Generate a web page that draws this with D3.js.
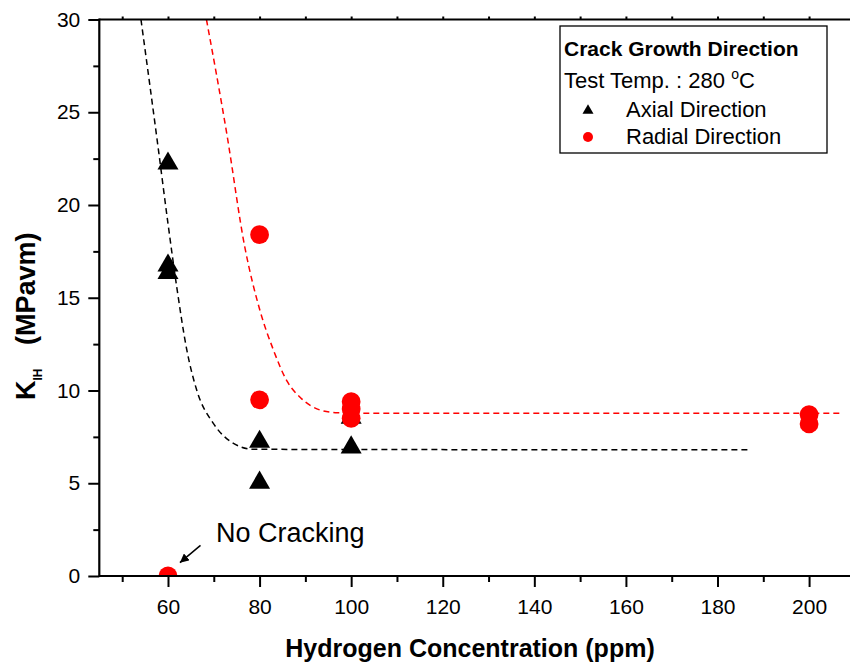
<!DOCTYPE html>
<html>
<head>
<meta charset="utf-8">
<script src="https://cdn.jsdelivr.net/npm/d3@7"></script>
<style>
  body { margin: 0; background: #fff; }
  svg { display: block; font-family: "Liberation Sans", Arial, sans-serif; }
</style>
</head>
<body>
<svg id="lienzo" width="850" height="666"></svg>
<script>
// datos
const axialX = [60, 60, 60, 80, 80, 100, 100];
const axialY = [22.4, 16.9, 16.5, 7.4, 5.2, 8.7, 7.1];
const radialX = [60, 80, 80, 100, 100, 100, 200, 200];
const radialY = [0, 18.4, 9.5, 9.4, 9.0, 8.5, 8.7, 8.2];

// curvas de ajuste (puntos leidos sobre las lineas discontinuas)
const axialFitX = [54.1, 57.9, 60, 61.9, 64.1, 66.3, 69.9, 74.3, 78.6, 186.7];
const axialFitY = [30, 23, 19, 15.6, 12.2, 10, 8.23, 7.15, 6.83, 6.8];
const radialFitX = [68.4, 72.8, 76.8, 80.1, 83, 86, 89, 93.2, 97, 100.4, 206.8];
const radialFitY = [30, 23.9, 17.7, 14.3, 12.2, 10.5, 9.6, 8.95, 8.8, 8.78, 8.78];

const xMajor = [60, 80, 100, 120, 140, 160, 180, 200];
const xMinor = [50, 70, 90, 110, 130, 150, 170, 190];
const yMajor = [0, 5, 10, 15, 20, 25, 30];
const yMinor = [2.5, 7.5, 12.5, 17.5, 22.5, 27.5];

const svg = d3.select('#lienzo');
const margenIzq = 99.3, margenDer = 850.3, margenSup = 19.5, margenInf = 576;

const x = d3.scaleLinear().domain([45, 209]).range([margenIzq, margenDer]);
const y = d3.scaleLinear().domain([0, 30]).range([margenInf, margenSup]);

const defs = svg.append('defs');
defs.append('clipPath').attr('id', 'area')
    .append('rect')
    .attr('x', margenIzq).attr('y', margenSup)
    .attr('width', margenDer - margenIzq).attr('height', margenInf - margenSup);

const plot = svg.append('g').attr('clip-path', 'url(#area)');

// curvas discontinuas
const linea = d3.line()
    .x(d => x(d[0]))
    .y(d => y(d[1]))
    .curve(d3.curveMonotoneX);

plot.append('path')
    .datum(d3.zip(axialFitX, axialFitY))
    .attr('d', linea)
    .attr('fill', 'none')
    .attr('stroke', 'black')
    .attr('stroke-width', 1.5)
    .attr('stroke-dasharray', '6,4');

plot.append('path')
    .datum(d3.zip(radialFitX, radialFitY))
    .attr('d', linea)
    .attr('fill', 'none')
    .attr('stroke', '#ff0000')
    .attr('stroke-width', 1.5)
    .attr('stroke-dasharray', '6,4');

// triangulo centrado en su caja
function triangulo(s) {
    const h = s * 0.866 / 2;
    return `M0,${-h}L${s / 2},${h}L${-s / 2},${h}Z`;
}

plot.selectAll('path.axial')
    .data(d3.zip(axialX, axialY))
    .enter()
    .append('path')
    .attr('class', 'axial')
    .attr('d', triangulo(21))
    .attr('transform', d => `translate(${x(d[0])},${y(d[1])})`)
    .attr('fill', 'black');

plot.selectAll('circle.radial')
    .data(d3.zip(radialX, radialY))
    .enter()
    .append('circle')
    .attr('class', 'radial')
    .attr('cx', d => x(d[0]))
    .attr('cy', d => y(d[1]))
    .attr('r', 9.4)
    .attr('fill', '#ff0000');

// ejes
svg.append('g').attr('transform', `translate(0,${margenInf})`)
    .call(d3.axisBottom(x).tickValues(xMajor).tickSize(11).tickPadding(12).tickFormat(d3.format('d')));
svg.append('g').attr('transform', `translate(0,${margenInf})`)
    .call(d3.axisBottom(x).tickValues(xMinor).tickSize(6).tickFormat(''));

svg.append('g').attr('transform', `translate(${margenIzq},0)`)
    .call(d3.axisLeft(y).tickValues(yMajor).tickSize(11).tickPadding(8));
svg.append('g').attr('transform', `translate(${margenIzq},0)`)
    .call(d3.axisLeft(y).tickValues(yMinor).tickSize(6).tickFormat(''));

// eje superior sin etiquetas
svg.append('g').attr('transform', `translate(0,${margenSup})`)
    .call(d3.axisTop(x).tickValues(xMajor.concat(xMinor)).tickSize(3).tickFormat(''));

svg.selectAll('.domain').remove();
svg.selectAll('.tick line').attr('stroke', 'black').attr('stroke-width', 2);
svg.selectAll('.tick text')
    .attr('font-size', '21px')
    .attr('font-family', '"Liberation Sans", Arial, sans-serif')
    .attr('fill', 'black');

// lineas de los ejes
svg.append('line')
    .attr('x1', margenIzq).attr('x2', margenDer).attr('y1', margenSup).attr('y2', margenSup)
    .attr('stroke', 'black').attr('stroke-width', 2.2);
svg.append('line')
    .attr('x1', margenIzq).attr('x2', margenIzq).attr('y1', margenSup - 1).attr('y2', margenInf + 1)
    .attr('stroke', 'black').attr('stroke-width', 2.2);
svg.append('line')
    .attr('x1', margenIzq).attr('x2', margenDer).attr('y1', margenInf).attr('y2', margenInf)
    .attr('stroke', 'black').attr('stroke-width', 2.2);

// titulos de ejes
svg.append('text')
    .attr('x', 470)
    .attr('y', 657)
    .attr('text-anchor', 'middle')
    .attr('font-size', '25px')
    .attr('font-weight', 'bold')
    .text('Hydrogen Concentration (ppm)');

const tituloY = svg.append('text')
    .attr('transform', 'rotate(-90)')
    .attr('x', -400)
    .attr('y', 35)
    .attr('font-size', '27px')
    .attr('font-weight', 'bold');
tituloY.append('tspan').text('K');
tituloY.append('tspan').attr('font-size', '12px').attr('dy', 7).text('IH');
tituloY.append('tspan').attr('x', -345).attr('dy', -7).text('(MPavm)');

// anotacion
svg.append('text')
    .attr('x', x(70.5))
    .attr('y', y(1.85))
    .attr('font-size', '27px')
    .text('No Cracking');

defs.append('marker')
    .attr('id', 'flecha')
    .attr('viewBox', '0 0 10 10')
    .attr('refX', 10).attr('refY', 5)
    .attr('markerWidth', 9).attr('markerHeight', 9)
    .attr('markerUnits', 'userSpaceOnUse')
    .attr('orient', 'auto')
    .append('path')
    .attr('d', 'M0,0L10,5L0,10Z')
    .attr('fill', 'black');

svg.append('line')
    .attr('x1', x(67.1)).attr('y1', y(1.65))
    .attr('x2', x(62.6)).attr('y2', y(0.72))
    .attr('stroke', 'black')
    .attr('stroke-width', 1.5)
    .attr('marker-end', 'url(#flecha)');

// leyenda
const leyenda = svg.append('g');
leyenda.append('rect')
    .attr('x', 560).attr('y', 26)
    .attr('width', 267).attr('height', 127)
    .attr('fill', 'white')
    .attr('stroke', 'black')
    .attr('stroke-width', 1.3);

leyenda.append('text')
    .attr('x', 564).attr('y', 56)
    .attr('font-size', '21px')
    .attr('font-weight', 'bold')
    .text('Crack Growth Direction');

const temp = leyenda.append('text')
    .attr('x', 564).attr('y', 88)
    .attr('font-size', '22px');
temp.append('tspan').text('Test Temp. : 280 ');
temp.append('tspan').attr('font-size', '14px').attr('dy', -9).text('o');
temp.append('tspan').attr('dy', 9).text('C');

leyenda.append('path')
    .attr('d', triangulo(11))
    .attr('transform', 'translate(588,109)')
    .attr('fill', 'black');
leyenda.append('text')
    .attr('x', 626).attr('y', 117)
    .attr('font-size', '22px')
    .text('Axial Direction');

leyenda.append('circle')
    .attr('cx', 588).attr('cy', 137)
    .attr('r', 5)
    .attr('fill', '#ff0000');
leyenda.append('text')
    .attr('x', 626).attr('y', 144)
    .attr('font-size', '22px')
    .text('Radial Direction');
</script>
</body>
</html>
